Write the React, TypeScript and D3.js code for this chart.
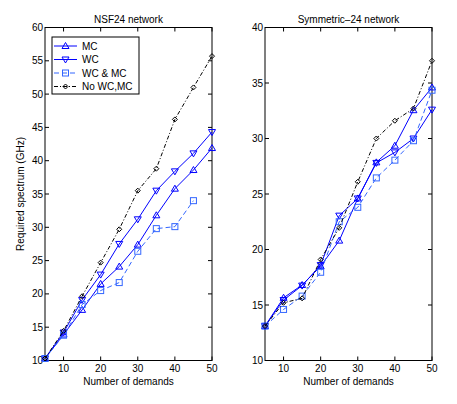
import React from 'react'
import * as d3 from 'd3'

const demands = [5, 10, 15, 20, 25, 30, 35, 40, 45, 50]

// NSF24 network
const nsfMC = [10.3, 13.9, 17.6, 21.5, 24.1, 27.4, 31.8, 35.8, 38.6, 41.9]
const nsfWC = [10.3, 14.2, 19.1, 22.9, 27.5, 31.2, 35.5, 38.4, 41.1, 44.3]
const nsfWCMC = [10.3, 13.8, 18.4, 20.5, 21.7, 26.4, 29.8, 30.1, 34.0]
const nsfNone = [10.3, 14.45, 19.65, 24.7, 29.7, 35.5, 38.8, 46.2, 51.0, 55.7]

// Symmetric-24 network
const symMC = [13.1, 15.65, 16.8, 18.5, 20.8, 24.6, 27.85, 29.35, 32.55, 34.6]
const symWC = [13.1, 15.45, 16.75, 18.6, 23.05, 24.6, 27.8, 28.75, 30.0, 32.6]
const symWCMC = [13.1, 14.6, 15.8, 17.95, 22.5, 23.8, 26.45, 28.05, 29.8, 34.35]
const symNone = [13.1, 15.2, 15.6, 19.1, 21.95, 26.1, 30.0, 31.6, 32.7, 37.0]

const seriesNames = ['MC', 'WC', 'WC & MC', 'No WC,MC']
const xTicks = [10, 20, 30, 40, 50]
const nsfYTicks = [10, 15, 20, 25, 30, 35, 40, 45, 50, 55, 60]
const symYTicks = [10, 15, 20, 25, 30, 35, 40]

const styles = [
  { color: '#0000ff', dash: '', marker: 'up' },
  { color: '#0000ff', dash: '', marker: 'down' },
  { color: '#3366ff', dash: '5,3', marker: 'square' },
  { color: '#000000', dash: '4,2,1,2', marker: 'diamond' },
]

const font = '"Liberation Sans", Arial, sans-serif'

function Marker({ kind, x, y, color }) {
  if (kind === 'up') {
    return <path d={`M${x},${y - 3.5}L${x + 3.5},${y + 2.5}L${x - 3.5},${y + 2.5}Z`} fill="none" stroke={color} strokeWidth={1} />
  }
  if (kind === 'down') {
    return <path d={`M${x},${y + 3.5}L${x + 3.5},${y - 2.5}L${x - 3.5},${y - 2.5}Z`} fill="none" stroke={color} strokeWidth={1} />
  }
  if (kind === 'square') {
    return <rect x={x - 3} y={y - 3} width={6} height={6} fill="none" stroke={color} strokeWidth={1} />
  }
  return <path d={`M${x},${y - 2.5}L${x + 2.5},${y}L${x},${y + 2.5}L${x - 2.5},${y}Z`} fill="none" stroke={color} strokeWidth={1} />
}

function Panel({ left, right, top, bottom, yDomain, yTicks, title, series, legend }) {
  const x = d3.scaleLinear().domain([5, 50]).range([left, right])
  const y = d3.scaleLinear().domain(yDomain).range([bottom, top])
  const line = d3
    .line<number>()
    .x((d, i) => x(demands[i]))
    .y((d) => y(d))
  const tick = 4
  return (
    <g>
      <rect x={left} y={top} width={right - left} height={bottom - top} fill="#fff" stroke="#000" strokeWidth={1} />
      {xTicks.map((t) => (
        <g key={'x' + t}>
          <line x1={x(t)} x2={x(t)} y1={bottom} y2={bottom - tick} stroke="#000" />
          <line x1={x(t)} x2={x(t)} y1={top} y2={top + tick} stroke="#000" />
          <text x={x(t)} y={bottom + 11} textAnchor="middle" fontSize={10} fontFamily={font}>
            {t}
          </text>
        </g>
      ))}
      {yTicks.map((t) => (
        <g key={'y' + t}>
          <line x1={left} x2={left + tick} y1={y(t)} y2={y(t)} stroke="#000" />
          <line x1={right} x2={right - tick} y1={y(t)} y2={y(t)} stroke="#000" />
          <text x={left - 2} y={y(t) + 3.5} textAnchor="end" fontSize={10} fontFamily={font}>
            {t}
          </text>
        </g>
      ))}
      {series.map((s, k) => (
        <g key={'s' + k}>
          <path d={line(s)} fill="none" stroke={styles[k].color} strokeWidth={1} strokeDasharray={styles[k].dash} />
          {s.map((v, i) => (
            <Marker key={i} kind={styles[k].marker} x={x(demands[i])} y={y(v)} color={styles[k].color} />
          ))}
        </g>
      ))}
      <text x={(left + right) / 2} y={top - 5} textAnchor="middle" fontSize={10} fontFamily={font}>
        {title}
      </text>
      <text x={(left + right) / 2} y={bottom + 24} textAnchor="middle" fontSize={10} fontFamily={font}>
        Number of demands
      </text>
      {legend && (
        <g>
          <rect x={52} y={37} width={87} height={57} fill="#fff" stroke="#000" strokeWidth={1} />
          {seriesNames.map((n, k) => {
            const ly = 46 + k * 13.5
            return (
              <g key={n}>
                <line x1={54} x2={77} y1={ly} y2={ly} stroke={styles[k].color} strokeDasharray={styles[k].dash} />
                <Marker kind={styles[k].marker} x={65.5} y={ly} color={styles[k].color} />
                <text x={82} y={ly + 3.5} fontSize={10} fontFamily={font}>
                  {n}
                </text>
              </g>
            )
          })}
        </g>
      )}
    </g>
  )
}

export default function App() {
  return (
    <svg width={457} height={404} style={{ position: 'absolute', left: 0, top: 0, background: '#fff' }}>
      <rect width={457} height={404} fill="#fff" />
      <Panel
        left={45}
        right={212}
        top={27.5}
        bottom={360.5}
        yDomain={[10, 60]}
        yTicks={nsfYTicks}
        title="NSF24 network"
        series={[nsfMC, nsfWC, nsfWCMC, nsfNone]}
        legend
      />
      <Panel
        left={265}
        right={432}
        top={27.5}
        bottom={360.5}
        yDomain={[10, 40]}
        yTicks={symYTicks}
        title="Symmetric–24 network"
        series={[symMC, symWC, symWCMC, symNone]}
        legend={false}
      />
      <text
        transform="translate(24,194) rotate(-90)"
        textAnchor="middle"
        fontSize={10}
        fontFamily={font}
      >
        Required spectrum (GHz)
      </text>
    </svg>
  )
}
